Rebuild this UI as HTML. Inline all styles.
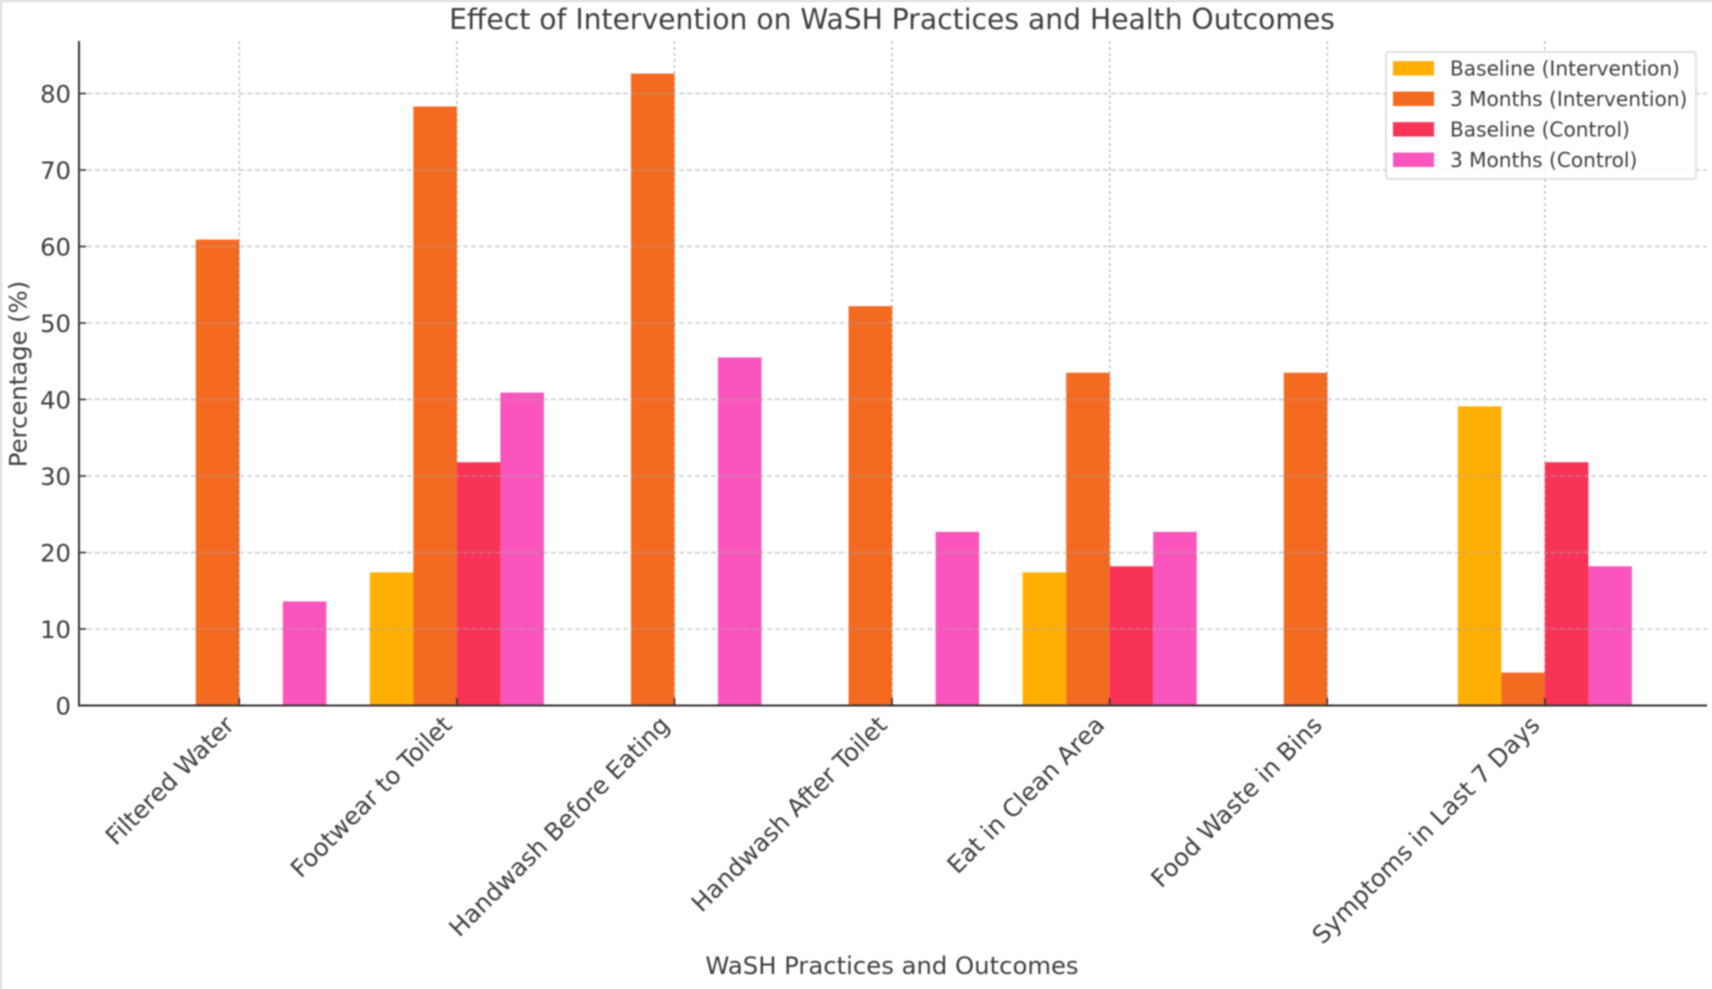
<!DOCTYPE html>
<html lang="en">
<head>
<meta charset="utf-8">
<title>Effect of Intervention on WaSH Practices and Health Outcomes</title>
<style>
html,body{margin:0;padding:0;background:#fff;width:1712px;height:989px;overflow:hidden}
svg{display:block;filter:blur(0.8px)}
text{font-family:"DejaVu Sans","Liberation Sans",sans-serif;fill:#3e3e3e}
</style>
</head>
<body>
<svg id="chart" xmlns="http://www.w3.org/2000/svg" width="1712" height="989" viewBox="0 0 1712 989">
<rect x="0" y="0" width="1712" height="989" fill="#fff"/>
<path d="M1 989V1H1712" fill="none" stroke="#cfcfcf" stroke-width="1.5"/>
<g id="grid-x"></g>
<g id="bars"></g>
<g id="grid-y"></g>
<g id="ticks"></g>
<g id="y-labels"></g>
<g id="x-labels"></g>
<line x1="79" y1="41" x2="79" y2="706.5" stroke="#333" stroke-width="2"/>
<line x1="78" y1="705.5" x2="1707" y2="705.5" stroke="#333" stroke-width="2"/>
<text x="892" y="29" font-size="28.2" text-anchor="middle">Effect of Intervention on WaSH Practices and Health Outcomes</text>
<text x="892" y="974" font-size="24.3" text-anchor="middle">WaSH Practices and Outcomes</text>
<text transform="translate(26.5 374) rotate(-90)" font-size="24.3" text-anchor="middle">Percentage (%)</text>
<g id="legend">
<rect x="1386" y="52" width="310" height="127" rx="3" fill="#fff" fill-opacity="0.85" stroke="#d6d6d6" stroke-width="1.5"/>
</g>
</svg>
<script>
const categories = ["Filtered Water", "Footwear to Toilet", "Handwash Before Eating", "Handwash After Toilet", "Eat in Clean Area", "Food Waste in Bins", "Symptoms in Last 7 Days"];
const seriesNames = ["Baseline (Intervention)", "3 Months (Intervention)", "Baseline (Control)", "3 Months (Control)"];
const baselineIntervention = [0, 17.4, 0, 0, 17.4, 0, 39.1];
const monthsIntervention = [60.9, 78.3, 82.6, 52.2, 43.5, 43.5, 4.3];
const baselineControl = [0, 31.8, 0, 0, 18.2, 0, 31.8];
const monthsControl = [13.6, 40.9, 45.5, 22.7, 22.7, 0, 18.2];
const yTicks = [0, 10, 20, 30, 40, 50, 60, 70, 80];

const seriesValues = [baselineIntervention, monthsIntervention, baselineControl, monthsControl];
const seriesColors = ["#ffae03", "#f46a21", "#f83358", "#fa55bc"];
const seriesKeys = ["baseline-intervention", "three-months-intervention", "baseline-control", "three-months-control"];
const SVG_NS = "http://www.w3.org/2000/svg";
const plotLeft = 79, plotRight = 1707, plotTop = 41;
const barWidth = 0.2;

function xScale(v) { return 239.3 + v * 217.6; }
function yScale(v) { return 705.5 - v * 7.65; }
function kebab(s) { return s.toLowerCase().replace(/[^a-z0-9]+/g, "-").replace(/-$/, ""); }
function make(tag, attrs, parentId) {
  const el = document.createElementNS(SVG_NS, tag);
  for (const k in attrs) el.setAttribute(k, attrs[k]);
  document.getElementById(parentId).appendChild(el);
  return el;
}

categories.forEach(function (cat, i) {
  const px = xScale(i);
  const grid = make("line", { x1: px, y1: plotTop, x2: px, y2: 705, stroke: "#b8b8b8", "stroke-width": 1.3, "stroke-dasharray": "3 3" }, "grid-x");
  
  
  const tick = make("line", { x1: px, y1: 698, x2: px, y2: 705.5, stroke: "#333", "stroke-width": 1.6 }, "ticks");
  
  
  const label = make("text", { transform: "translate(" + (px - 3.7) + " 726.5) rotate(-45)", "font-size": 24.3, "text-anchor": "end" }, "x-labels");
  label.textContent = cat;
  
  
});

seriesValues.forEach(function (values, s) {
  values.forEach(function (v, i) {
    if (v <= 0) return;
    const x0 = xScale(i + (s - 2) * barWidth);
    const x1 = xScale(i + (s - 1) * barWidth);
    const bar = make("rect", { x: x0, y: yScale(v), width: x1 - x0, height: yScale(0) - yScale(v), fill: seriesColors[s] }, "bars");
    
    
  });
});

yTicks.forEach(function (t) {
  const py = yScale(t);
  if (t > 0) {
    const grid = make("line", { x1: plotLeft, y1: py, x2: plotRight, y2: py, stroke: "#a8a8a8", "stroke-opacity": 0.7, "stroke-width": 1.3, "stroke-dasharray": "5 3" }, "grid-y");
    
    
  }
  const tick = make("line", { x1: 79, y1: py, x2: 86, y2: py, stroke: "#333", "stroke-width": 1.6 }, "ticks");
  
  
  const label = make("text", { x: 71, y: py + 9, "font-size": 24.3, "text-anchor": "end" }, "y-labels");
  label.textContent = t;
  
  
});

seriesNames.forEach(function (name, s) {
  const rowY = 68.3 + s * 30.5;
  const swatch = make("rect", { x: 1393, y: rowY - 7.2, width: 41, height: 14.4, fill: seriesColors[s] }, "legend");
  
  
  const label = make("text", { x: 1450, y: rowY + 7, "font-size": 20.1 }, "legend");
  label.textContent = name;
  
  
});
</script>
</body>
</html>
